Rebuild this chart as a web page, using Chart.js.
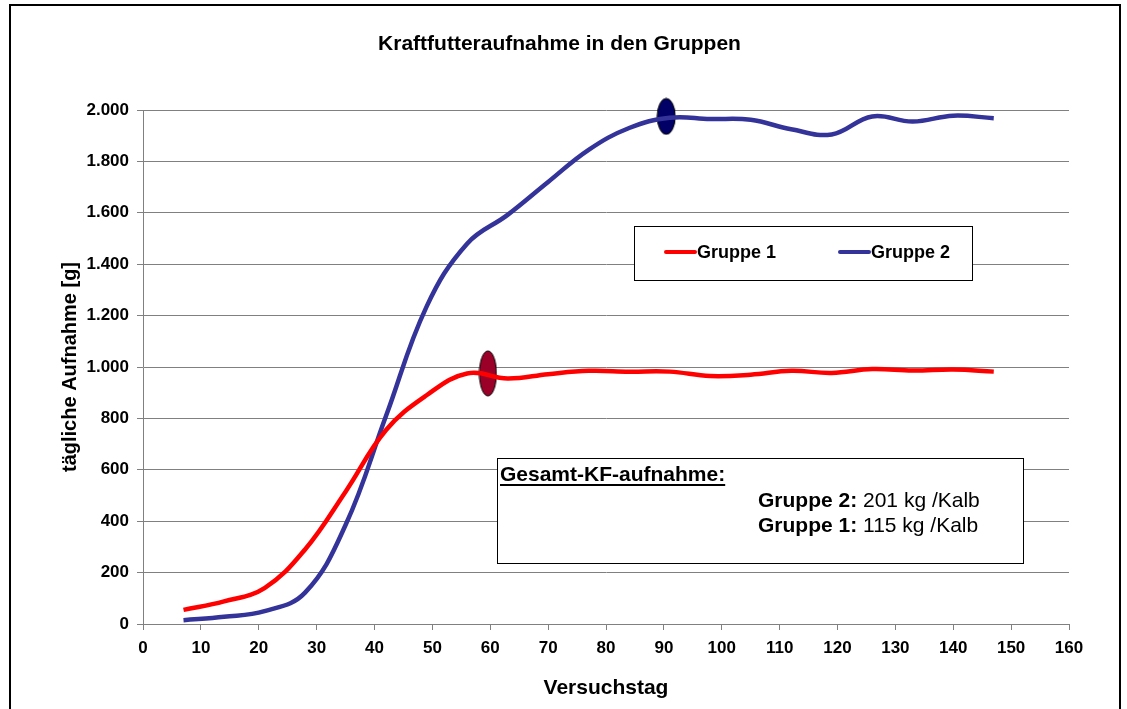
<!DOCTYPE html>
<html>
<head>
<meta charset="utf-8">
<script src="https://cdn.jsdelivr.net/npm/chart.js@4.4.1/dist/chart.umd.min.js"></script>
<style>
  html, body { margin: 0; padding: 0; background: #fff; }
  #wrap { position: relative; width: 1127px; height: 709px; }
</style>
</head>
<body>
<div id="wrap"><canvas id="myChart" width="1127" height="709"></canvas></div>
<script>
// Versuchstage (wöchentlich)
let tage = [7,14,21,28,35,42,49,56,63,70,77,84,91,98,105,112,119,126,133,140,147];
let gruppe1 = [55,88,140,290,515,755,890,975,955,972,985,982,982,965,970,985,977,992,986,990,982];
let gruppe2 = [15,28,50,122,385,810,1235,1480,1592,1720,1845,1930,1970,1965,1962,1925,1905,1975,1955,1978,1968];

// markierte Punkte (Ellipsen)
let markerG1 = [{x: 59.6, y: 975}];
let markerG2 = [{x: 90.4, y: 1975}];

let xTicks = [0,10,20,30,40,50,60,70,80,90,100,110,120,130,140,150,160];

let gesamt = [
  ['Gruppe 2:', ' 201 kg /Kalb'],
  ['Gruppe 1:', ' 115 kg /Kalb']
];

const FONT = 'Arial, "Liberation Sans"';

function ellipse(w, h, fill) {
  let c = document.createElement('canvas');
  c.width = w + 2; c.height = h + 2;
  let g = c.getContext('2d');
  g.beginPath();
  g.ellipse(c.width / 2, c.height / 2, w / 2, h / 2, 0, 0, Math.PI * 2);
  g.fillStyle = fill;
  g.fill();
  g.lineWidth = 1;
  g.strokeStyle = '#000';
  g.stroke();
  return c;
}

let rahmen = {
  id: 'rahmen',
  afterDraw(chart) {
    let c = chart.ctx;
    c.save();
    // aussenrahmen
    c.strokeStyle = '#000';
    c.lineWidth = 2;
    c.strokeRect(10, 5, 1110, 720);

    // legende
    c.lineWidth = 1;
    c.fillStyle = '#fff';
    c.fillRect(634, 226, 338, 54);
    c.strokeRect(634.5, 226.5, 338, 54);
    c.font = 'bold 18px ' + FONT;
    c.textBaseline = 'middle';
    c.lineCap = 'round';
    let ds = chart.data.datasets;
    [[666, ds[0]], [840, ds[1]]].forEach(([lx, d]) => {
      c.strokeStyle = d.borderColor;
      c.lineWidth = 4;
      c.beginPath();
      c.moveTo(lx, 252); c.lineTo(lx + 29, 252);
      c.stroke();
      c.fillStyle = '#000';
      c.fillText(d.label, lx + 31, 253);
    });

    // textfeld
    c.fillStyle = '#fff';
    c.fillRect(497, 458, 526, 105);
    c.strokeStyle = '#000';
    c.lineWidth = 1;
    c.strokeRect(497.5, 458.5, 526, 105);
    c.fillStyle = '#000';
    c.textBaseline = 'alphabetic';
    c.font = 'bold 21px ' + FONT;
    let t = 'Gesamt-KF-aufnahme:';
    c.fillText(t, 500, 481);
    let tw = c.measureText(t).width;
    c.fillRect(500, 484, tw, 2);
    gesamt.forEach((z, i) => {
      let y = 507 + i * 25;
      c.font = 'bold 21px ' + FONT;
      c.fillText(z[0], 758, y);
      let w = c.measureText(z[0]).width;
      c.font = '21px ' + FONT;
      c.fillText(z[1], 758 + w, y);
    });
    c.restore();
  }
};

let ctx = document.getElementById('myChart').getContext('2d');

let myChart = new Chart(ctx, {
  type: 'line',
  data: {
    datasets: [
      {
        label: 'Gruppe 1',
        data: tage.map((t, i) => ({x: t, y: gruppe1[i]})),
        borderColor: '#FF0000',
        borderWidth: 4.5,
        pointRadius: 0,
        tension: 0.4
      },
      {
        label: 'Gruppe 2',
        data: tage.map((t, i) => ({x: t, y: gruppe2[i]})),
        borderColor: '#333399',
        borderWidth: 4.5,
        pointRadius: 0,
        tension: 0.4
      },
      {
        label: 'm1',
        data: markerG1,
        showLine: false,
        clip: false,
        pointStyle: ellipse(17, 45, '#9B0029'),
        pointRadius: 10
      },
      {
        label: 'm2',
        data: markerG2,
        showLine: false,
        clip: false,
        pointStyle: ellipse(18, 36, '#000066'),
        pointRadius: 10
      }
    ]
  },
  options: {
    responsive: false,
    animation: false,
    layout: { padding: { left: 50, right: 58, top: 22, bottom: 6 } },
    plugins: {
      legend: { display: false },
      tooltip: { enabled: false },
      title: {
        display: true,
        text: 'Kraftfutteraufnahme in den Gruppen',
        color: '#000',
        font: { family: FONT, size: 21, weight: 'bold' },
        padding: { top: 10, bottom: 52.8 }
      }
    },
    scales: {
      x: {
        type: 'linear',
        min: 0,
        max: 160,
        afterBuildTicks: s => { s.ticks = xTicks.map(v => ({value: v})); },
        afterFit: s => { s.height = 79; },
        grid: { drawOnChartArea: false, tickLength: 6, color: '#808080' },
        border: { color: '#808080' },
        ticks: {
          color: '#000',
          padding: 8,
          maxRotation: 0,
          font: { family: FONT, size: 17, weight: 'bold' }
        },
        title: {
          display: true,
          text: 'Versuchstag',
          color: '#000',
          padding: { top: 0, bottom: 2 },
          font: { family: FONT, size: 21, weight: 'bold' }
        }
      },
      y: {
        min: 0,
        max: 2000,
        afterFit: s => { s.width = 93; },
        grid: { tickLength: 6, color: '#808080' },
        border: { color: '#808080' },
        ticks: {
          stepSize: 200,
          color: '#000',
          padding: 8,
          callback: v => v.toLocaleString('de-DE'),
          font: { family: FONT, size: 17, weight: 'bold' }
        },
        title: {
          display: true,
          text: 'tägliche Aufnahme [g]',
          color: '#000',
          padding: { top: 8, bottom: 0 },
          font: { family: FONT, size: 20, weight: 'bold' }
        }
      }
    }
  },
  plugins: [rahmen]
});
</script>
</body>
</html>
